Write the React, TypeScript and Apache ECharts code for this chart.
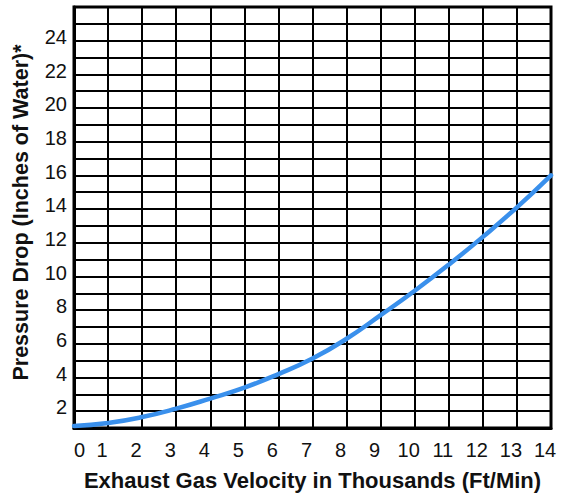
import React, { useEffect, useRef } from "react";
import * as echarts from "echarts";

const velocity = [0, 1, 2, 3, 4, 5, 6, 7, 8, 9, 10, 11, 12, 13, 14];
const pressureDrop = [0.12, 0.3, 0.65, 1.15, 1.75, 2.4, 3.2, 4.12, 5.3, 6.7, 8.15, 9.7, 11.35, 13.1, 15.0];
const xTitle = "Exhaust Gas Velocity in Thousands (Ft/Min)";
const yTitle = "Pressure Drop (Inches of Water)*";

const FONT = "'Liberation Sans', Arial, sans-serif";

export default function App() {
  const ref = useRef<HTMLDivElement>(null);
  useEffect(() => {
    if (!ref.current) return;
    const chart = echarts.init(ref.current, undefined, { renderer: "svg" });
    const data = velocity.map((v, i) => [v, pressureDrop[i]]);
    chart.setOption({
      animation: false,
      backgroundColor: "#ffffff",
      grid: {
        left: 74,
        right: 10,
        top: 7,
        bottom: 63,
        show: true,
        borderColor: "#000",
        borderWidth: 3,
        backgroundColor: "transparent",
      },
      xAxis: {
        type: "value",
        min: 0,
        max: 14,
        interval: 1,
        name: xTitle,
        nameLocation: "middle",
        nameGap: 41,
        nameTextStyle: { fontFamily: FONT, fontSize: 22, fontWeight: "bold", color: "#111" },
        axisLine: { show: true, lineStyle: { color: "#000", width: 3 } },
        axisTick: { show: false },
        axisLabel: {
          fontFamily: FONT,
          fontSize: 20,
          color: "#111",
          margin: 12,
          padding: [0, 12, 0, 0],
          alignMinLabel: "left",
        },
        splitLine: { show: true, lineStyle: { color: "#000", width: 2 } },
      },
      yAxis: {
        type: "value",
        min: 0,
        max: 25,
        interval: 1,
        name: yTitle,
        nameLocation: "middle",
        nameGap: 42,
        nameRotate: 90,
        nameTextStyle: {
          fontFamily: FONT,
          fontSize: 21.5,
          fontWeight: "bold",
          color: "#111",
          padding: [0, 0, 0, 10],
        },
        axisLine: { show: true, lineStyle: { color: "#000", width: 3 } },
        axisTick: { show: false },
        axisLabel: {
          fontFamily: FONT,
          fontSize: 20,
          color: "#111",
          margin: 7,
          verticalAlign: "top",
          padding: [3, 0, 0, 0],
          formatter: (v: number) => (v > 0 && v % 2 === 0 ? String(v) : ""),
        },
        splitLine: { show: true, lineStyle: { color: "#000", width: 2 } },
      },
      series: [
        {
          type: "line",
          data,
          smooth: true,
          showSymbol: false,
          lineStyle: { color: "#3a90ec", width: 4.5, cap: "round" },
        },
      ],
    });
    return () => chart.dispose();
  }, []);
  return (
    <div
      ref={ref}
      style={{ position: "fixed", left: 0, top: 0, width: 561, height: 496, background: "#fff" }}
    />
  );
}
